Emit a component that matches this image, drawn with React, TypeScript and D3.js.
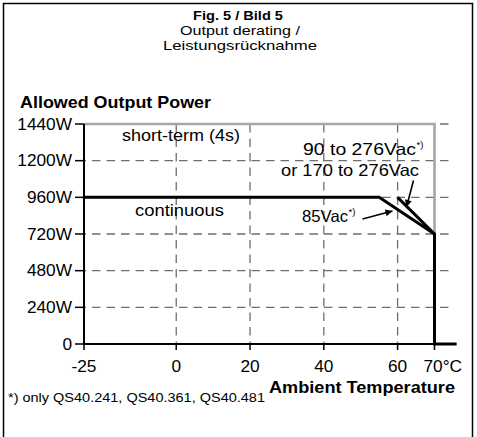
import React from "react";
import * as d3 from "d3";

// ---- data ----
const xTicks = [-25, 0, 20, 40, 60, 70];
const xTickLabels = ["-25", "0", "20", "40", "60", "70°C"];
const yTicks = [0, 240, 480, 720, 960, 1200, 1440];
const yTickLabels = ["0", "240W", "480W", "720W", "960W", "1200W", "1440W"];
const vGrid = [0, 20, 40, 60];
const hGrid = [240, 480, 720, 960, 1200, 1440];

const shortTermTemp = [-25, 70, 70];
const shortTermPower = [1440, 1440, 720];
const contTemp = [-25, 55, 70, 70, 76];
const contPower = [960, 960, 720, 0, 0];
const highLineTemp = [60, 70];
const highLinePower = [960, 720];

const W = 477;
const H = 437;
const FONT = "'Liberation Sans', Arial, Helvetica, sans-serif";

export default function App() {
  const x = d3.scaleLinear().domain([-25, 70]).range([84, 434.5]);
  const y = d3.scaleLinear().domain([0, 1440]).range([344, 124]);
  const gridRight = x(74);

  const line = d3
    .line<[number, number]>()
    .x((d) => x(d[0]))
    .y((d) => y(d[1]));

  const shortTerm = line(shortTermTemp.map((t, i) => [t, shortTermPower[i]] as [number, number]));
  const cont = line(contTemp.map((t, i) => [t, contPower[i]] as [number, number]));
  const high = line(highLineTemp.map((t, i) => [t, highLinePower[i]] as [number, number]));

  const gridStroke = "#6e6e6e";
  const dash = "8.5,6";

  return (
    <svg
      width={W}
      height={H}
      style={{ position: "absolute", left: 0, top: 0, background: "#fff" }}
      fontFamily={FONT}
    >
      <defs>
        <marker id="ah" viewBox="0 0 10 10" refX="10" refY="5" markerWidth="9" markerHeight="7" markerUnits="userSpaceOnUse" orient="auto">
          <path d="M0,0 L10,5 L0,10 z" fill="#000" />
        </marker>
      </defs>
      <rect x={0} y={0} width={W} height={H} fill="#fff" />
      <rect x={3.5} y={3.5} width={469} height={H + 10} fill="none" stroke="#000" strokeWidth={1.5} />

      {/* Titles */}
      <text x={238} y={20} textAnchor="middle" fontSize={13} fontWeight="bold" textLength={90} lengthAdjust="spacingAndGlyphs">Fig. 5 / Bild 5</text>
      <text x={240} y={34.5} textAnchor="middle" fontSize={13.5} textLength={120} lengthAdjust="spacingAndGlyphs">Output derating /</text>
      <text x={240} y={49.5} textAnchor="middle" fontSize={13.5} textLength={154} lengthAdjust="spacingAndGlyphs">Leistungsrücknahme</text>
      <text x={20} y={108} fontSize={16.5} fontWeight="bold" textLength={191} lengthAdjust="spacingAndGlyphs">Allowed Output Power</text>

      {/* grid */}
      {hGrid.map((v) => (
        <line key={"h" + v} x1={x(-25)} x2={gridRight} y1={y(v)} y2={y(v)} stroke={gridStroke} strokeWidth={1.3} strokeDasharray={dash} strokeDashoffset={-8} />
      ))}
      {vGrid.map((v) => (
        <line key={"v" + v} x1={x(v)} x2={x(v)} y1={y(1440)} y2={y(0)} stroke={gridStroke} strokeWidth={1.3} strokeDasharray={dash} />
      ))}

      {/* short-term line */}
      <path d={shortTerm || ""} fill="none" stroke="#a6a6a6" strokeWidth={2.6} />

      {/* axes */}
      <line x1={x(-25)} x2={x(-25)} y1={y(1440)} y2={y(0)} stroke="#000" strokeWidth={2} />
      <line x1={x(-25)} x2={x(70)} y1={y(0)} y2={y(0)} stroke="#000" strokeWidth={2} />
      {yTicks.map((v) => (
        <line key={"yt" + v} x1={x(-25) - 9} x2={x(-25)} y1={y(v)} y2={y(v)} stroke="#000" strokeWidth={1.5} />
      ))}
      {xTicks.map((v) => (
        <line key={"xt" + v} x1={x(v)} x2={x(v)} y1={y(0)} y2={y(0) + 6} stroke="#000" strokeWidth={1.5} />
      ))}

      {/* continuous lines */}
      <path d={cont || ""} fill="none" stroke="#000" strokeWidth={3} strokeLinejoin="miter" />
      <path d={high || ""} fill="none" stroke="#000" strokeWidth={3} />

      {/* tick labels */}
      {yTicks.map((v, i) => (
        <text key={"yl" + v} transform={`translate(72,${y(v) + 5.5}) scale(1.08,1)`} textAnchor="end" fontSize={16}>
          {yTickLabels[i]}
        </text>
      ))}
      {xTicks.map((v, i) =>
        v === 70 ? (
          <text key={"xl" + v} transform={`translate(${x(v) - 11},372) scale(1.08,1)`} textAnchor="start" fontSize={16}>
            {xTickLabels[i]}
          </text>
        ) : (
          <text key={"xl" + v} transform={`translate(${x(v)},372) scale(1.08,1)`} textAnchor="middle" fontSize={16}>
            {xTickLabels[i]}
          </text>
        )
      )}
      <text x={455} y={393} textAnchor="end" fontSize={16.5} fontWeight="bold" textLength={186} lengthAdjust="spacingAndGlyphs">Ambient Temperature</text>

      {/* annotations */}
      <text x={122} y={141} fontSize={16.5} textLength={118} lengthAdjust="spacingAndGlyphs">short-term (4s)</text>
      <text x={135} y={216} fontSize={16.5} textLength={89} lengthAdjust="spacingAndGlyphs">continuous</text>
      <text x={303} y={155} fontSize={16.5} textLength={113} lengthAdjust="spacingAndGlyphs">90 to 276Vac</text>
      <text x={416.5} y={148} fontSize={9.5}>*)</text>
      <text x={281} y={175.5} fontSize={16.5} textLength={138} lengthAdjust="spacingAndGlyphs">or 170 to 276Vac</text>
      <text x={302} y={222} fontSize={16.5} textLength={46} lengthAdjust="spacingAndGlyphs">85Vac</text>
      <text x={348.5} y={215} fontSize={9.5}>*)</text>

      {/* arrows */}
      <line x1={362.5} y1={219} x2={392.5} y2={211} stroke="#000" strokeWidth={1.6} markerEnd="url(#ah)" />
      <line x1={413.5} y1={180.5} x2={406.5} y2={207} stroke="#000" strokeWidth={1.6} markerEnd="url(#ah)" />

      {/* footnote */}
      <text x={8} y={402} fontSize={13.5} textLength={257} lengthAdjust="spacingAndGlyphs">*) only QS40.241, QS40.361, QS40.481</text>
    </svg>
  );
}
